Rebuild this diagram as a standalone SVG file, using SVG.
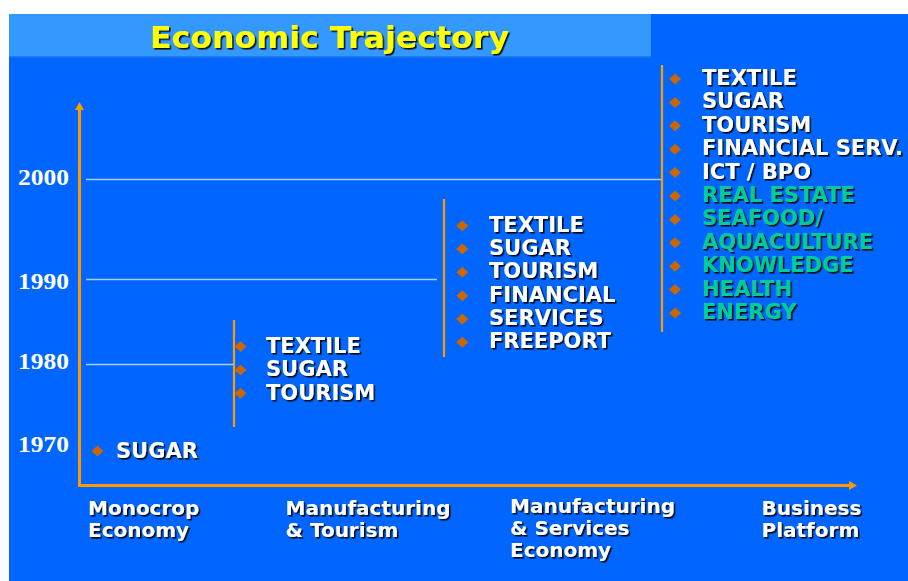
<svg xmlns="http://www.w3.org/2000/svg" width="908" height="581" viewBox="0 0 908 581">
<defs>
<filter id="sh" x="-5%" y="-20%" width="115%" height="150%">
<feDropShadow dx="1.6" dy="1.6" stdDeviation="0.3" flood-color="#000" flood-opacity="0.9"/>
</filter>
<path id="dia" d="M-6,0 L0,-5.5 L6,0 L0,5.5 Z" fill="#CC6600"/>
</defs>
<style>
.it{font-family:"DejaVu Sans","Verdana",sans-serif;font-weight:bold;font-size:21px;fill:#fff;filter:url(#sh)}
.gr{fill:#00CC99}
.yr{font-family:"Liberation Serif","Times New Roman",serif;font-weight:bold;font-size:23px;fill:#fff}
.lb{font-family:"DejaVu Sans","Verdana",sans-serif;font-weight:bold;font-size:20px;fill:#fff;filter:url(#sh)}
.grid{stroke:#A8CFFF;stroke-width:1.3;fill:none}
.bar{stroke:#FF9900;stroke-width:2.2;fill:none}
.axis{stroke:#FF9900;stroke-width:3;fill:none}
</style>
<rect x="0" y="0" width="908" height="581" fill="#fff"/>
<rect x="9" y="14" width="899" height="567" fill="#0066FF"/>
<rect x="9" y="14" width="642" height="43" fill="#3399FF"/>
<line x1="9" y1="57" x2="651" y2="57" stroke="#1A73E8" stroke-width="1.5"/>
<text x="150" y="48" font-family="DejaVu Sans, Verdana, sans-serif" font-weight="bold" font-size="31" fill="#FFFF00" filter="url(#sh)" textLength="359" lengthAdjust="spacingAndGlyphs">Economic Trajectory</text>

<g id="years">
<text class="yr" x="18" y="184.5" textLength="51" lengthAdjust="spacingAndGlyphs">2000</text>
<text class="yr" x="18" y="289" textLength="51" lengthAdjust="spacingAndGlyphs">1990</text>
<text class="yr" x="18" y="369" textLength="51" lengthAdjust="spacingAndGlyphs">1980</text>
<text class="yr" x="18" y="452" textLength="51" lengthAdjust="spacingAndGlyphs">1970</text>
</g>

<g id="connectors">
<line class="grid" x1="86" y1="179.5" x2="662" y2="179.5"/>
<line class="grid" x1="86" y1="279.5" x2="437" y2="279.5"/>
<line class="grid" x1="86" y1="364.5" x2="234" y2="364.5" stroke="#fff"/>
<line class="bar" x1="234" y1="320" x2="234" y2="427"/>
<line class="bar" x1="444" y1="199" x2="444" y2="357"/>
<line class="bar" x1="662" y1="65" x2="662" y2="332"/>
<polyline class="axis" points="79.5,110 79.5,485.5 850,485.5"/>
<path d="M79.5,102 L75,110 L84,110 Z" fill="#FF9900"/>
<path d="M857,485.5 L849,481 L849,490 Z" fill="#FF9900"/>
</g>

<g id="stage1970">
<use href="#dia" x="97.5" y="451"/>
<text class="it" x="116" y="457.5">SUGAR</text>
</g>

<g id="stage1980">
<use href="#dia" x="240.5" y="346.5"/>
<use href="#dia" x="240.5" y="370"/>
<use href="#dia" x="240.5" y="393.3"/>
<text class="it" x="266" y="352.5">TEXTILE</text>
<text class="it" x="266" y="376">SUGAR</text>
<text class="it" x="266" y="399.5">TOURISM</text>
</g>

<g id="stage1990">
<use href="#dia" x="462.3" y="225.7"/>
<use href="#dia" x="462.3" y="249"/>
<use href="#dia" x="462.3" y="272.3"/>
<use href="#dia" x="462.3" y="295.7"/>
<use href="#dia" x="462.3" y="319"/>
<use href="#dia" x="462.3" y="342.3"/>
<text class="it" x="489" y="231.5">TEXTILE</text>
<text class="it" x="489" y="254.8">SUGAR</text>
<text class="it" x="489" y="278.2">TOURISM</text>
<text class="it" x="489" y="301.5">FINANCIAL</text>
<text class="it" x="489" y="324.8">SERVICES</text>
<text class="it" x="489" y="348.2">FREEPORT</text>
</g>

<g id="stage2000">
<use href="#dia" x="675" y="79"/>
<use href="#dia" x="675" y="102.4"/>
<use href="#dia" x="675" y="125.8"/>
<use href="#dia" x="675" y="149.2"/>
<use href="#dia" x="675" y="172.6"/>
<use href="#dia" x="675" y="196"/>
<use href="#dia" x="675" y="219.4"/>
<use href="#dia" x="675" y="242.8"/>
<use href="#dia" x="675" y="266.2"/>
<use href="#dia" x="675" y="289.6"/>
<use href="#dia" x="675" y="313"/>
<text class="it" x="702" y="85">TEXTILE</text>
<text class="it" x="702" y="108.4">SUGAR</text>
<text class="it" x="702" y="131.8">TOURISM</text>
<text class="it" x="702" y="155.2">FINANCIAL SERV.</text>
<text class="it" x="702" y="178.6">ICT / BPO</text>
<text class="it gr" x="702" y="202">REAL ESTATE</text>
<text class="it gr" x="702" y="225.4">SEAFOOD/</text>
<text class="it gr" x="702" y="248.8">AQUACULTURE</text>
<text class="it gr" x="702" y="272.2">KNOWLEDGE</text>
<text class="it gr" x="702" y="295.6">HEALTH</text>
<text class="it gr" x="702" y="319">ENERGY</text>
</g>

<g id="phases">
<text class="lb" x="88" y="515">Monocrop</text>
<text class="lb" x="88" y="536.5">Economy</text>
<text class="lb" x="285.5" y="515">Manufacturing</text>
<text class="lb" x="285.5" y="536.5">&amp; Tourism</text>
<text class="lb" x="510" y="513">Manufacturing</text>
<text class="lb" x="510" y="535">&amp; Services</text>
<text class="lb" x="510" y="557">Economy</text>
<text class="lb" x="761.5" y="515">Business</text>
<text class="lb" x="761.5" y="536.5">Platform</text>
</g>
</svg>
